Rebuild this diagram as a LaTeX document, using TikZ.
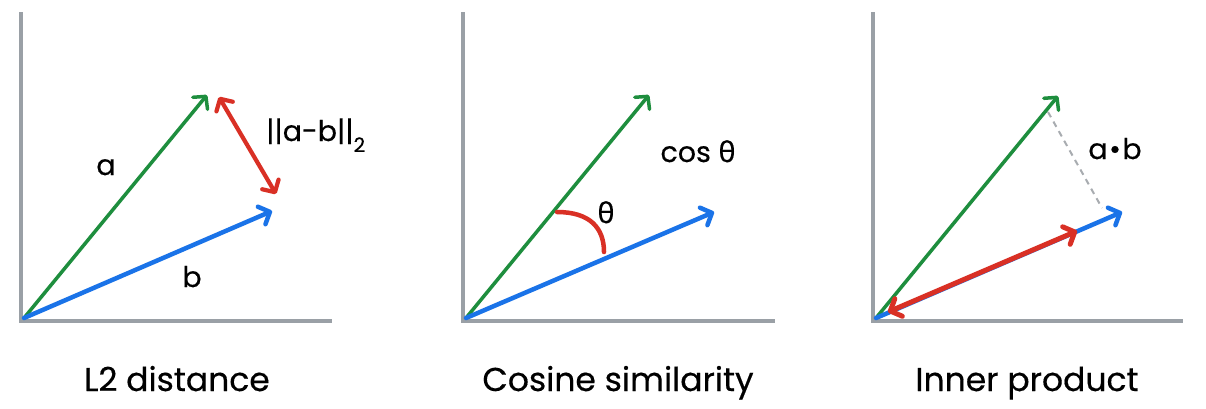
\documentclass[tikz,border=0pt]{standalone}
\usepackage{fontspec}
\setmainfont{Poppins}[FakeBold=0.4]
\newfontfamily\grk{Noto Sans}[FakeBold=0.4]
\usetikzlibrary{arrows.meta}
\definecolor{axisgray}{HTML}{9AA0A6}
\definecolor{vgreen}{HTML}{1E8E3E}
\definecolor{vblue}{HTML}{1A73E8}
\definecolor{vred}{HTML}{D93025}
\definecolor{dashgray}{HTML}{A8ACB0}
\begin{document}
\begin{tikzpicture}[x=1pt,y=-1pt,
  axis/.style={draw=axisgray,line width=4.5pt,line join=miter},
  tipbarb/.tip={Straight Barb[length=9pt,width=19pt,round]},
  vecg/.style={draw=vgreen,line width=3.5pt,line cap=round,-tipbarb},
  vecb/.style={draw=vblue,line width=4.5pt,line cap=round,-tipbarb},
  dbl/.style={draw=vred,line width=4.2pt,line cap=round,tipbarb-tipbarb},
  arcred/.style={draw=vred,line width=4.5pt,line cap=round},
  proj/.style={draw=dashgray,line width=2pt,dash pattern=on 6pt off 5pt},
  title/.style={font=\fontsize{33}{40}\selectfont,anchor=base,inner sep=0pt},
  lab/.style={font=\fontsize{28.5}{34}\selectfont,anchor=base,inner sep=0pt}]
\useasboundingbox (0,0) rectangle (1206,408);
\fill[white] (0,0) rectangle (1206,408);

% ---------- Panel 1: L2 distance ----------
\coordinate (Y1) at (21,12);
\coordinate (C1) at (21,321);
\coordinate (X1) at (332,321);
\coordinate (O1) at (24,318);
\coordinate (A1) at (207,95);
\coordinate (B1) at (272,211);
\coordinate (R1a) at (219,97);
\coordinate (R1b) at (276,194);
\draw[axis] (Y1) -- (C1) -- (X1);
\draw[vecg] (O1) -- (A1);
\draw[vecb] (O1) -- (B1);
\draw[dbl] (R1a) -- (R1b);
\node[lab] (la1) at (106,175) {a};
\node[lab] (lb1) at (192,287) {b};
\node[lab,anchor=base west] (ld1) at (266,141) {||a-b||\raisebox{-11pt}{\fontsize{20}{24}\selectfont 2}};
\node[title] (t1) at (177,391) {L2 distance};

% ---------- Panel 2: Cosine similarity ----------
\coordinate (Y2) at (463,12);
\coordinate (C2) at (463,321);
\coordinate (X2) at (775,321);
\coordinate (O2) at (466,318);
\coordinate (A2) at (649,95);
\coordinate (B2) at (714,212);
\coordinate (P2) at (557,212);
\coordinate (Q2) at (604,252);
\draw[axis] (Y2) -- (C2) -- (X2);
\draw[vecg] (O2) -- (A2);
\draw[vecb] (O2) -- (B2);
\draw[arcred] (P2) .. controls (590,212) and (604,228) .. (Q2);
\node[lab] (th2) at (606,223) {\grk θ};
\node[lab] (cs2) at (698,162) {cos {\grk θ}};
\node[title] (t2) at (618,391) {Cosine similarity};

% ---------- Panel 3: Inner product ----------
\coordinate (Y3) at (873,12);
\coordinate (C3) at (873,321);
\coordinate (X3) at (1183,321);
\coordinate (O3) at (876,318);
\coordinate (A3) at (1058,96);
\coordinate (B3) at (1122,212);
\coordinate (R3a) at (888,312);
\coordinate (R3b) at (1077,231);
\coordinate (D3a) at (1048,112);
\coordinate (D3b) at (1102,208);
\draw[axis] (Y3) -- (C3) -- (X3);
\draw[vecg] (O3) -- (A3);
\draw[vecb] (O3) -- (B3);
\draw[dbl,line width=5pt] (R3a) -- (R3b);
\draw[proj] (D3a) -- (D3b);
\node[lab] (ab3) at (1115,159) {a\kern1.5pt•\kern1.5pt b};
\node[title] (t3) at (1027,391) {Inner product};
\end{tikzpicture}
\end{document}
